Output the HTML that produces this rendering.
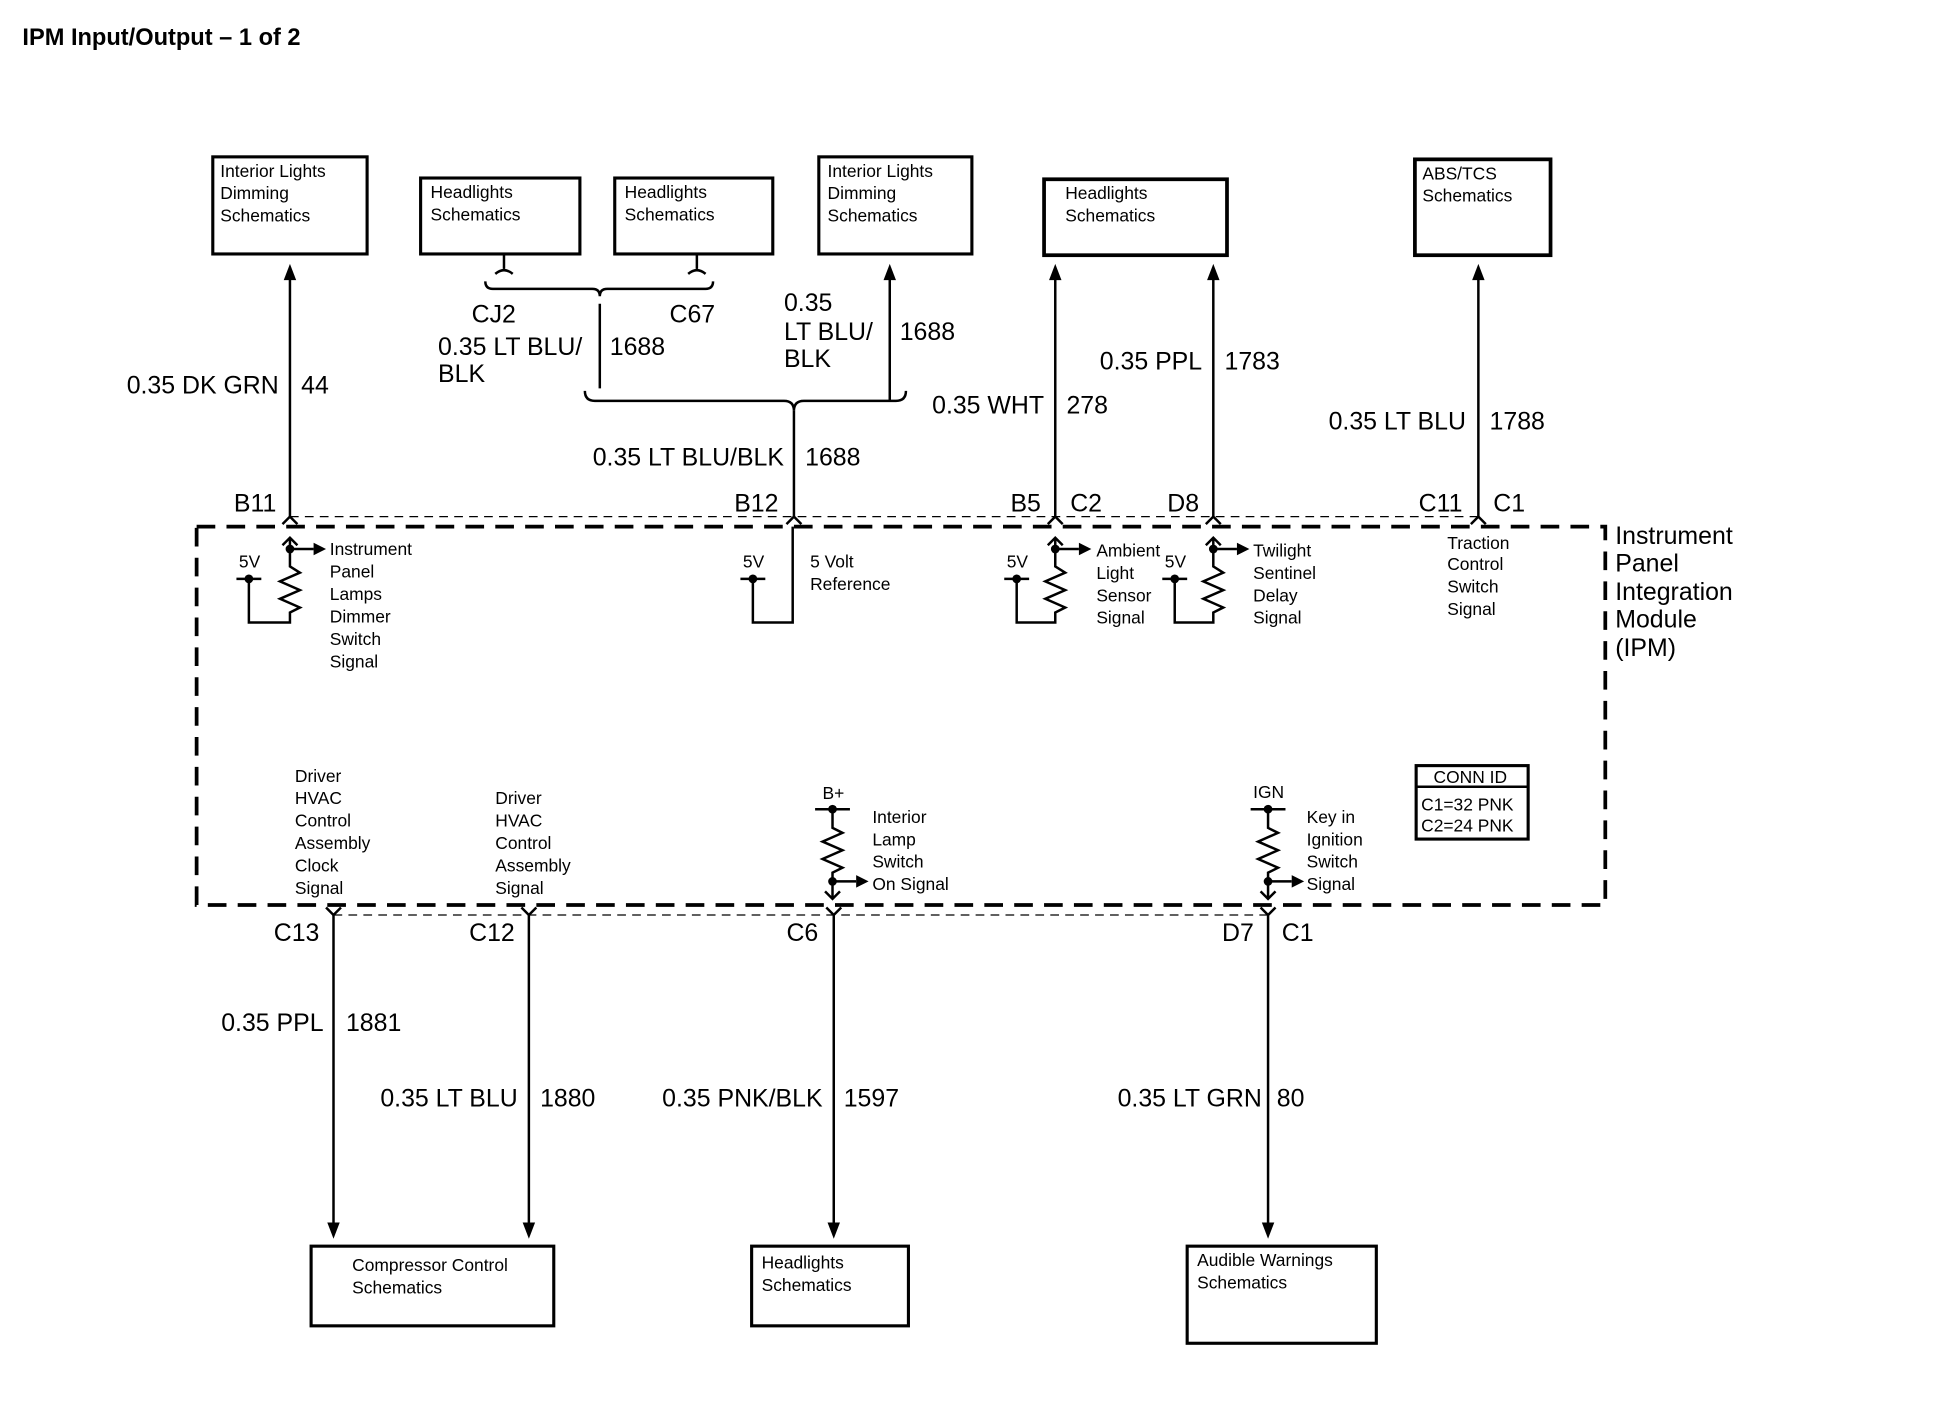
<!DOCTYPE html>
<html><head><meta charset="utf-8"><style>
html,body{margin:0;padding:0;background:#fff;}
svg{display:block;}
text{font-family:"Liberation Sans",Arial,sans-serif;fill:#000;}
.s{font-size:14px;}
.m{font-size:20px;}
.b{fill:none;stroke:#000;stroke-width:2.5;}
.w{fill:none;stroke:#000;stroke-width:2;}
</style></head><body>
<svg width="1950" height="1408" viewBox="0 0 1567 1131" preserveAspectRatio="none" xmlns="http://www.w3.org/2000/svg">
<text x="18" y="36" style="font-size:19px;font-weight:bold">IPM Input/Output – 1 of 2</text>

<!-- top boxes -->
<rect x="171" y="126" width="124" height="78" class="b"/>
<text class="s" x="177" y="142">Interior Lights</text><text class="s" x="177" y="160">Dimming</text><text class="s" x="177" y="178">Schematics</text>
<rect x="338" y="143" width="128" height="61" class="b"/>
<text class="s" x="346" y="159">Headlights</text><text class="s" x="346" y="177">Schematics</text>
<rect x="494" y="143" width="127" height="61" class="b"/>
<text class="s" x="502" y="159">Headlights</text><text class="s" x="502" y="177">Schematics</text>
<rect x="658" y="126" width="123" height="78" class="b"/>
<text class="s" x="665" y="142">Interior Lights</text><text class="s" x="665" y="160">Dimming</text><text class="s" x="665" y="178">Schematics</text>
<rect x="839" y="144" width="147" height="61" style="fill:none;stroke:#000;stroke-width:3"/>
<text class="s" x="856" y="160">Headlights</text><text class="s" x="856" y="178">Schematics</text>
<rect x="1137" y="128" width="109" height="77" style="fill:none;stroke:#000;stroke-width:3"/>
<text class="s" x="1143" y="144">ABS/TCS</text><text class="s" x="1143" y="162">Schematics</text>

<!-- bottom boxes -->
<rect x="250" y="1001" width="195" height="64" class="b"/>
<text class="s" x="283" y="1021">Compressor Control</text><text class="s" x="283" y="1039">Schematics</text>
<rect x="604" y="1001" width="126" height="64" class="b"/>
<text class="s" x="612" y="1019">Headlights</text><text class="s" x="612" y="1037">Schematics</text>
<rect x="954" y="1001" width="152" height="78" class="b"/>
<text class="s" x="962" y="1017">Audible Warnings</text><text class="s" x="962" y="1035">Schematics</text>

<g class="w">
<path d="M233,415 V222"/><path d="M715,322 V222"/><path d="M848,415 V222"/><path d="M975,415 V222"/><path d="M1188,415 V222"/>
<path d="M405,204 V216 M398,220 q7,-6 14,0"/>
<path d="M560,204 V216 M553,220 q7,-6 14,0"/>
<path d="M390,226 q0,6 6,6 H476 q6,0 6,6 q0,-6 6,-6 H567 q6,0 6,-6"/>
<path d="M482,244 V312"/>
<path d="M470,314 q0,8 8,8 H630 q8,0 8,8 q0,-8 8,-8 H720 q8,0 8,-8"/>
<path d="M638,330 V415"/>
<path d="M268,735 V985"/><path d="M425,735 V985"/><path d="M670,735 V985"/><path d="M1019,735 V985"/>
</g>
<g fill="#000">
<path d="M233,212 l-5,13 h10z"/><path d="M715,212 l-5,13 h10z"/><path d="M848,212 l-5,13 h10z"/><path d="M975,212 l-5,13 h10z"/><path d="M1188,212 l-5,13 h10z"/>
<path d="M268,995 l-5,-13 h10z"/><path d="M425,995 l-5,-13 h10z"/><path d="M670,995 l-5,-13 h10z"/><path d="M1019,995 l-5,-13 h10z"/>
</g>

<g class="m">
<text x="224" y="316" text-anchor="end">0.35 DK GRN</text><text x="242" y="316">44</text>
<text x="379" y="259">CJ2</text><text x="538" y="259">C67</text>
<text x="352" y="285">0.35 LT BLU/</text><text x="352" y="307">BLK</text><text x="490" y="285">1688</text>
<text x="630" y="250">0.35</text><text x="630" y="273">LT BLU/</text><text x="630" y="295">BLK</text><text x="723" y="273">1688</text>
<text x="630" y="374" text-anchor="end">0.35 LT BLU/BLK</text><text x="647" y="374">1688</text>
<text x="839" y="332" text-anchor="end">0.35 WHT</text><text x="857" y="332">278</text>
<text x="966" y="297" text-anchor="end">0.35 PPL</text><text x="984" y="297">1783</text>
<text x="1178" y="345" text-anchor="end">0.35 LT BLU</text><text x="1197" y="345">1788</text>
<text x="188" y="411">B11</text><text x="590" y="411">B12</text><text x="812" y="411">B5</text><text x="860" y="411">C2</text>
<text x="938" y="411">D8</text><text x="1140" y="411">C11</text><text x="1200" y="411">C1</text>
<text x="220" y="756">C13</text><text x="377" y="756">C12</text><text x="632" y="756">C6</text><text x="982" y="756">D7</text><text x="1030" y="756">C1</text>
<text x="260" y="828" text-anchor="end">0.35 PPL</text><text x="278" y="828">1881</text>
<text x="416" y="889" text-anchor="end">0.35 LT BLU</text><text x="434" y="889">1880</text>
<text x="661" y="889" text-anchor="end">0.35 PNK/BLK</text><text x="678" y="889">1597</text>
<text x="1014" y="889" text-anchor="end">0.35 LT GRN</text><text x="1026" y="889">80</text>
<text x="1298" y="437">Instrument</text><text x="1298" y="459">Panel</text><text x="1298" y="482">Integration</text><text x="1298" y="504">Module</text><text x="1298" y="527">(IPM)</text>
</g>

<path d="M233,415 H1190" style="fill:none;stroke:#000;stroke-width:1;stroke-dasharray:7,5"/>
<path d="M268,735 H1020" style="fill:none;stroke:#000;stroke-width:1;stroke-dasharray:7,5"/>
<rect x="158" y="423" width="1132" height="304" style="fill:none;stroke:#000;stroke-width:3;stroke-dasharray:15,9"/>
<g class="w">
<path d="M227,421 l6,-6 l6,6"/><path d="M632,421 l6,-6 l6,6"/><path d="M842,421 l6,-6 l6,6"/><path d="M969,421 l6,-6 l6,6"/><path d="M1182,421 l6,-6 l6,6"/>
<path d="M262,729 l6,6 l6,-6"/><path d="M419,729 l6,6 l6,-6"/><path d="M664,729 l6,6 l6,-6"/><path d="M1013,729 l6,6 l6,-6"/>
</g>

<g class="w">
<path d="M227,438 l6,-6 l6,6 M233,432 V455 l8,5 l-16,7 l16,7 l-16,7 l16,7 l-8,4 V500 H200 V465 M190,465 H210 M233,441 H252"/>
<path d="M637,423 V500 H605 V465 M595,465 H615"/>
<path d="M842,438 l6,-6 l6,6 M848,432 V455 l8,5 l-16,7 l16,7 l-16,7 l16,7 l-8,4 V500 H817 V465 M807,465 H827 M848,441 H867"/>
<path d="M969,438 l6,-6 l6,6 M975,432 V455 l8,5 l-16,7 l16,7 l-16,7 l16,7 l-8,4 V500 H944 V465 M934,465 H954 M975,441 H994"/>
<path d="M655,650 H683 M669,650 V665 l8,4 l-16,7 l16,7 l-16,7 l16,7 l-8,4 V722 M663,716 l6,6 l6,-6 M669,708 H688"/>
<path d="M1005,650 H1033 M1019,650 V665 l8,4 l-16,7 l16,7 l-16,7 l16,7 l-8,4 V722 M1013,716 l6,6 l6,-6 M1019,708 H1038"/>
</g>
<g fill="#000">
<circle cx="233" cy="441" r="3.5"/><circle cx="200" cy="465" r="3.5"/><path d="M252,436 l10,5 l-10,5z"/>
<circle cx="605" cy="465" r="3.5"/>
<circle cx="848" cy="441" r="3.5"/><circle cx="817" cy="465" r="3.5"/><path d="M867,436 l10,5 l-10,5z"/>
<circle cx="975" cy="441" r="3.5"/><circle cx="944" cy="465" r="3.5"/><path d="M994,436 l10,5 l-10,5z"/>
<circle cx="669" cy="650" r="3.5"/><circle cx="669" cy="708" r="3.5"/><path d="M688,703 l10,5 l-10,5z"/>
<circle cx="1019" cy="650" r="3.5"/><circle cx="1019" cy="708" r="3.5"/><path d="M1038,703 l10,5 l-10,5z"/>
</g>
<g class="s">
<text x="192" y="456">5V</text><text x="597" y="456">5V</text><text x="809" y="456">5V</text><text x="936" y="456">5V</text>
<text x="265" y="446">Instrument</text><text x="265" y="464">Panel</text><text x="265" y="482">Lamps</text><text x="265" y="500">Dimmer</text><text x="265" y="518">Switch</text><text x="265" y="536">Signal</text>
<text x="651" y="456">5 Volt</text><text x="651" y="474">Reference</text>
<text x="881" y="447">Ambient</text><text x="881" y="465">Light</text><text x="881" y="483">Sensor</text><text x="881" y="501">Signal</text>
<text x="1007" y="447">Twilight</text><text x="1007" y="465">Sentinel</text><text x="1007" y="483">Delay</text><text x="1007" y="501">Signal</text>
<text x="1163" y="441">Traction</text><text x="1163" y="458">Control</text><text x="1163" y="476">Switch</text><text x="1163" y="494">Signal</text>
<text x="237" y="628">Driver</text><text x="237" y="646">HVAC</text><text x="237" y="664">Control</text><text x="237" y="682">Assembly</text><text x="237" y="700">Clock</text><text x="237" y="718">Signal</text>
<text x="398" y="646">Driver</text><text x="398" y="664">HVAC</text><text x="398" y="682">Control</text><text x="398" y="700">Assembly</text><text x="398" y="718">Signal</text>
<text x="661" y="642">B+</text><text x="1007" y="641">IGN</text>
<text x="701" y="661">Interior</text><text x="701" y="679">Lamp</text><text x="701" y="697">Switch</text><text x="701" y="715">On Signal</text>
<text x="1050" y="661">Key in</text><text x="1050" y="679">Ignition</text><text x="1050" y="697">Switch</text><text x="1050" y="715">Signal</text>
</g>
<rect x="1138" y="615" width="90" height="59" style="fill:none;stroke:#000;stroke-width:2.5"/>
<path d="M1138,632 H1228" class="w"/>
<g class="s"><text x="1152" y="629">CONN ID</text><text x="1142" y="651">C1=32 PNK</text><text x="1142" y="668">C2=24 PNK</text></g>
</svg>
</body></html>
